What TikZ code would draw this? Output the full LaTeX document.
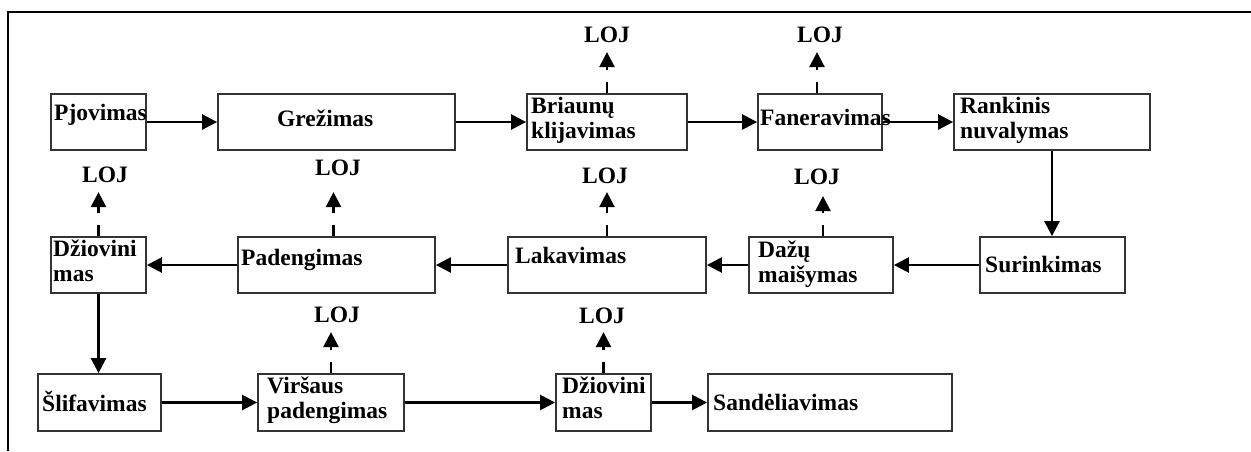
\documentclass[tikz,border=0pt]{standalone}
\usepackage{fontspec}
\setmainfont{Liberation Serif}
\usetikzlibrary{arrows.meta}
\begin{document}
\begin{tikzpicture}[x=1pt,y=-1pt,
  box/.style={draw=black!80, line width=1.8pt, minimum height=56pt, inner sep=0pt},
  lbl/.style={anchor=base west, inner sep=0pt, font=\fontsize{23.5}{25}\selectfont\bfseries},
  loj/.style={anchor=base, inner sep=0pt, font=\fontsize{23.5}{25}\selectfont\bfseries},
  flow/.style={line width=2.5pt, -{Triangle[length=15pt,width=15pt]}},
  emit/.style={flow, dash pattern=on 11pt off 12pt}]
\useasboundingbox (0,0) rectangle (1251,451);
\fill[white] (0,0) rectangle (1251,451);
\draw[line width=1.5pt] (8,451) -- (8,12) -- (1251,12);
% row 1 boxes
\node[box, minimum width=95pt]  (pj) at (98.5,122) {};
\node[box, minimum width=237pt] (gr) at (336.5,122) {};
\node[box, minimum width=160pt] (bk) at (607,122) {};
\node[box, minimum width=124pt] (fa) at (820,122) {};
\node[box, minimum width=196pt] (rn) at (1052,122) {};
% row 2 boxes
\node[box, minimum width=95pt]  (dzA) at (98.5,265) {};
\node[box, minimum width=197pt] (pa) at (336.5,265) {};
\node[box, minimum width=198pt] (la) at (607,265) {};
\node[box, minimum width=144pt] (da) at (821,265) {};
\node[box, minimum width=145pt] (su) at (1052.5,265) {};
% row 3 boxes
\node[box, minimum width=123pt, minimum height=57pt] (sl) at (99.5,402.5) {};
\node[box, minimum width=146pt, minimum height=57pt] (vi) at (331,402.5) {};
\node[box, minimum width=95pt, minimum height=57pt]  (dzB) at (603.5,402.5) {};
\node[box, minimum width=244pt, minimum height=57pt] (sa) at (830,402.5) {};
% texts
\node[lbl] (tpj) at (54,120) {Pjovimas};
\node[lbl] (tgr) at (277,126) {Grežimas};
\node[lbl] (tbk) at (531,113) {\begin{tabular}[t]{@{}l@{}}Briaunų\\klijavimas\end{tabular}};
\node[lbl] (tfa) at (760,125) {Faneravimas};
\node[lbl] (trn) at (960,113) {\begin{tabular}[t]{@{}l@{}}Rankinis\\nuvalymas\end{tabular}};
\node[lbl] (tdzA) at (53,256) {\begin{tabular}[t]{@{}l@{}}Džiovini\\mas\end{tabular}};
\node[lbl] (tpa) at (241,265) {Padengimas};
\node[lbl] (tla) at (515,263) {Lakavimas};
\node[lbl] (tda) at (758,257) {\begin{tabular}[t]{@{}l@{}}Dažų\\maišymas\end{tabular}};
\node[lbl] (tsu) at (985,272) {Surinkimas};
\node[lbl] (tsl) at (42,411) {Šlifavimas};
\node[lbl] (tvi) at (267,393) {\begin{tabular}[t]{@{}l@{}}Viršaus\\padengimas\end{tabular}};
\node[lbl] (tdzB) at (562,393) {\begin{tabular}[t]{@{}l@{}}Džiovini\\mas\end{tabular}};
\node[lbl] (tsa) at (713,410) {Sandėliavimas};
% LOJ labels
\node[loj] (lbk) at (607,42) {LOJ};
\node[loj] (lfa) at (820,42) {LOJ};
\node[loj] (ldzA) at (105,182) {LOJ};
\node[loj] (lpa) at (338,175) {LOJ};
\node[loj] (lla) at (605,183) {LOJ};
\node[loj] (lda) at (817,184) {LOJ};
\node[loj] (lvi) at (337,322) {LOJ};
\node[loj] (ldzB) at (602,323) {LOJ};
% flow
\draw[flow] (pj.east) -- (gr.west);
\draw[flow] (gr.east) -- (bk.west);
\draw[flow] (bk.east) -- (fa.west);
\draw[flow] (fa.east) -- (rn.west);
\draw[flow] (rn.south) -- (rn.south |- su.north);
\draw[flow] (su.west) -- (da.east);
\draw[flow] (da.west) -- (la.east);
\draw[flow] (la.west) -- (pa.east);
\draw[flow] (pa.west) -- (dzA.east);
\draw[flow] (dzA.south) -- (dzA.south |- sl.north);
\draw[flow] (sl.east) -- (vi.west);
\draw[flow] (vi.east) -- (dzB.west);
\draw[flow] (dzB.east) -- (sa.west);
% emissions
\draw[emit] (bk.north) -- ++(0,-41);
\draw[emit] ([xshift=-3pt]fa.north) -- ++(0,-41);
\draw[emit] (dzA.north) -- ++(0,-44);
\draw[emit] ([xshift=-3pt]pa.north) -- ++(0,-44);
\draw[emit] (la.north) -- ++(0,-44);
\draw[emit] ([xshift=2pt]da.north) -- ++(0,-40);
\draw[emit] (vi.north) -- ++(0,-41);
\draw[emit] (dzB.north) -- ++(0,-41);
\end{tikzpicture}
\end{document}
